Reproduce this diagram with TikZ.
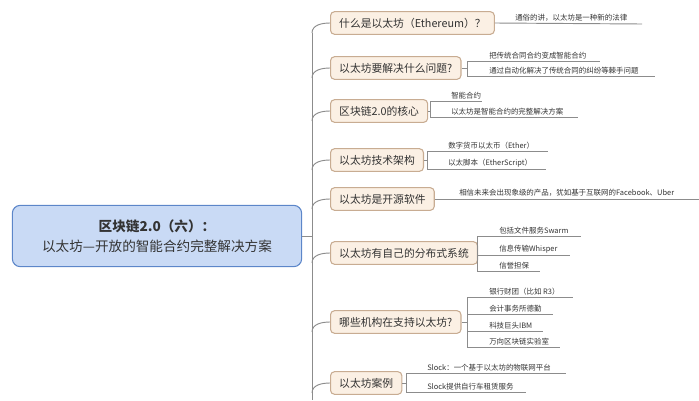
\documentclass[tikz,border=0pt]{standalone}
\usepackage{fontspec}
\setmainfont{Noto Sans CJK SC}
\begin{document}
\begin{tikzpicture}[x=0.75pt,y=-0.75pt,
  box/.style={draw=boxline,fill=boxfill,rounded corners=3pt,line width=0.8pt,anchor=west,minimum height=17pt,inner xsep=6.5pt,font=\fontsize{8.1}{10}\selectfont,text=txt},
  lf/.style={anchor=south west,inner sep=1.5pt,font=\fontsize{5.6}{7}\selectfont,text=txt},
  ln/.style={draw=gline,line width=0.7pt}]
\definecolor{boxfill}{HTML}{FBF0E4}
\definecolor{boxline}{HTML}{C8AC92}
\definecolor{gline}{HTML}{8C8C8C}
\definecolor{txt}{HTML}{333333}
\definecolor{rootfill}{HTML}{C9DAF5}
\definecolor{rootline}{HTML}{5C86C9}
\useasboundingbox (0,0) rectangle (699,400);
\node[draw=rootline,fill=rootfill,rounded corners=6pt,line width=0.8pt,minimum width=217pt,minimum height=46pt,align=center,font=\fontsize{10.2}{15}\selectfont,text=txt] (root) at (157,236) {\textbf{区块链2.0（六）：}\\以太坊—开放的智能合约完整解决方案};
\coordinate (sp) at (312,236);
\coordinate (top) at (312,33); \coordinate (bot) at (312,400);
\draw[ln] (root.east) -- (sp);
\draw[ln] (top) -- (bot);
% boxes
\node[box] (b1) at (330,23) {什么是以太坊（Ethereum）？};
\node[box] (b2) at (330,68) {以太坊要解决什么问题?};
\node[box] (b3) at (330,111) {区块链2.0的核心};
\node[box] (b4) at (330,160) {以太坊技术架构};
\node[box] (b5) at (330,199) {以太坊是开源软件};
\node[box] (b6) at (330,253) {以太坊有自己的分布式系统};
\node[box] (b7) at (330,322) {哪些机构在支持以太坊?};
\node[box] (b8) at (330,383) {以太坊案例};
\foreach \b/\y in {b1/23,b2/68,b3/111,b4/160,b5/199,b6/253,b7/322,b8/383}{
  \draw[ln] (312,\y+10) to[out=90,in=180] (\b.west);}
% branch 1
\node[lf] (l1) at (513,24) {通俗的讲，以太坊是一种新的法律};
\draw[ln] (b1.east) -- (642,24);
% branch 2
\coordinate (k2) at (467,68);
\draw[ln] (b2.east) -- (k2);
\draw[ln] (467,61) -- (467,76);
\node[lf] (l21) at (487,61) {把传统合同合约变成智能合约};
\node[lf] (l22) at (487,76) {通过自动化解决了传统合同的纠纷等棘手问题};
\draw[ln] (467,61) -- (600,61); \draw[ln] (467,76) -- (655,76);
% branch 3
\draw[ln] (b3.east) -- (430,111);
\draw[ln] (430,101) -- (430,117);
\node[lf] (l31) at (449,101) {智能合约};
\node[lf] (l32) at (449,117) {以太坊是智能合约的完整解决方案};
\draw[ln] (430,101) -- (482,101); \draw[ln] (430,117) -- (578,117);
% branch 4
\draw[ln] (b4.east) -- (427,160);
\draw[ln] (427,151) -- (427,169);
\node[lf] (l41) at (446,151) {数字货币以太币（Ether）};
\node[lf] (l42) at (446,169) {以太脚本（EtherScript）};
\draw[ln] (427,151) -- (548,151); \draw[ln] (427,169) -- (546,169);
% branch 5
\node[lf] (l5) at (457,199) {相信未来会出现象级的产品，犹如基于互联网的Facebook、Uber};
\draw[ln] (b5.east) -- (699,199);
% branch 6
\draw[ln] (b6.east) -- (477,253);
\draw[ln] (477,236) -- (477,271);
\node[lf] (l61) at (497,236) {包括文件服务Swarm};
\node[lf] (l62) at (497,255) {信息传输Whisper};
\node[lf] (l63) at (497,271) {信誉担保};
\draw[ln] (477,236) -- (581,236); \draw[ln] (477,255) -- (570,255); \draw[ln] (477,271) -- (540,271);
% branch 7
\draw[ln] (b7.east) -- (467,322);
\draw[ln] (467,297) -- (467,347);
\node[lf] (l71) at (487,297) {银行财团（比如 R3）};
\node[lf] (l72) at (487,314) {会计事务所德勤};
\node[lf] (l73) at (487,331) {科技巨头IBM};
\node[lf] (l74) at (487,347) {万向区块链实验室};
\draw[ln] (467,297) -- (573,297); \draw[ln] (467,314) -- (553,314);
\draw[ln] (467,331) -- (543,331); \draw[ln] (467,347) -- (560,347);
% branch 8
\draw[ln] (b8.east) -- (406,383);
\draw[ln] (406,373) -- (406,392);
\node[lf] (l81) at (425,373) {Slock：一个基于以太坊的物联网平台};
\node[lf] (l82) at (425,392) {Slock提供自行车租赁服务};
\draw[ln] (406,373) -- (566,373); \draw[ln] (406,392) -- (526,392);
\end{tikzpicture}
\end{document}
